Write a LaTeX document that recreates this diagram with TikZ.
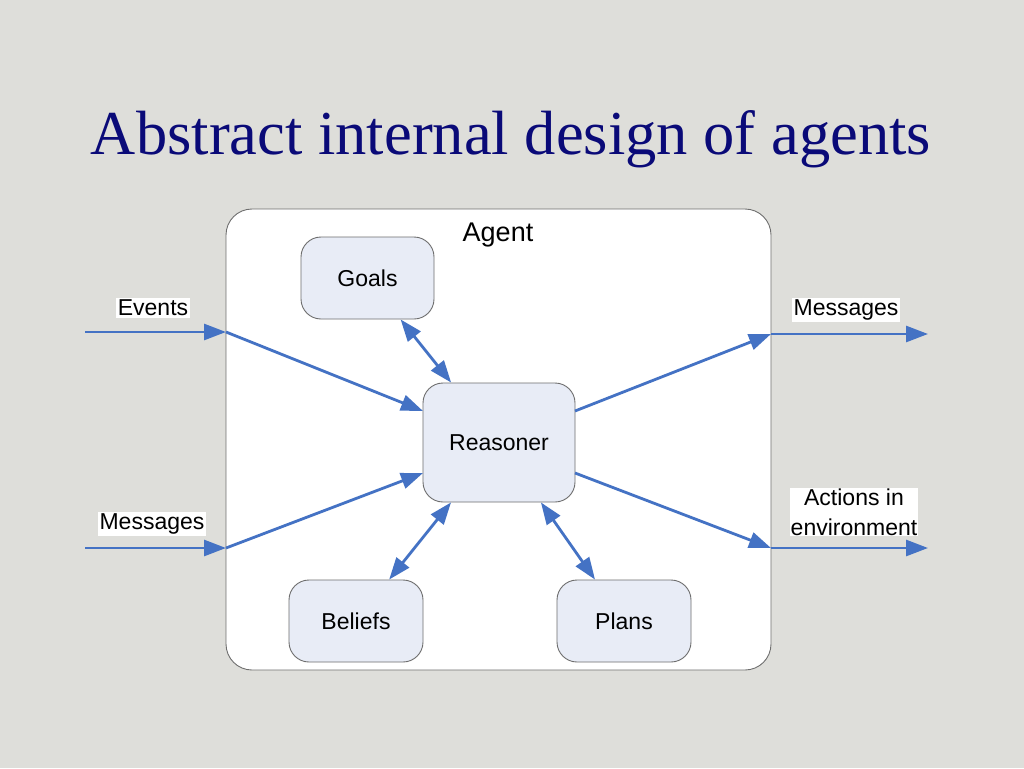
\documentclass[tikz,border=0pt]{standalone}
\usepackage{fontspec}
\setmainfont{Liberation Sans}
\newfontfamily\titlefont{Liberation Serif}
\usetikzlibrary{arrows.meta}
\definecolor{bgc}{RGB}{222,222,218}
\definecolor{navy}{RGB}{10,10,120}
\definecolor{arr}{RGB}{68,114,196}
\definecolor{boxfill}{RGB}{232,236,246}
\definecolor{edge}{RGB}{110,110,110}
\tikzset{
  comp/.style={draw=edge, line width=0.9pt, fill=boxfill, rounded corners=20pt,
    minimum width=134pt, minimum height=82pt, inner sep=0pt,
    font=\fontsize{23}{27}\selectfont},
  flow/.style={draw=arr, line width=2.8pt, -{Triangle[length=22pt,width=16pt]}},
  biflow/.style={draw=arr, line width=2.8pt, {Triangle[length=22pt,width=16pt]}-{Triangle[length=22pt,width=16pt]}},
  lbl/.style={fill=white, inner sep=2pt, font=\fontsize{23}{30}\selectfont, align=center}
}
\begin{document}
\begin{tikzpicture}[x=1pt,y=-1pt]
\fill[bgc] (0,0) rectangle (1024,768);
\useasboundingbox (0,0) rectangle (1024,768);
\node[text=navy, font=\titlefont\fontsize{62.5}{68}\selectfont] (title) at (511,139) {Abstract internal design of agents};
% agent box
\node[draw=edge, line width=0.9pt, fill=white, rounded corners=26pt,
  minimum width=545pt, minimum height=461pt, inner sep=0pt] (agent) at (498.5,439.5) {};
\node[font=\fontsize{27}{31}\selectfont] (agentlbl) at (498,235) {Agent};
% components
\node[comp, minimum width=133pt] (goals) at (367.5,278) {Goals};
\node[comp, minimum width=152pt, minimum height=119pt] (reasoner) at (499,442.5) {Reasoner};
\node[comp] (beliefs) at (356,621) {Beliefs};
\node[comp] (plans) at (624,621) {Plans};
% coordinates
\coordinate (evS) at (85,332);
\coordinate (evJ) at (226,332);
\coordinate (rIn1) at (423,411);
\coordinate (msS) at (85,548);
\coordinate (msJ) at (226,548);
\coordinate (rIn2) at (423,473);
\coordinate (rOut1) at (575,411);
\coordinate (moJ) at (771,334);
\coordinate (moE) at (928,334);
\coordinate (rOut2) at (575,473);
\coordinate (acJ) at (771,548);
\coordinate (acE) at (928,548);
% arrows
\draw[flow] (evS) -- (evJ);
\draw[flow] (evJ) -- (rIn1);
\draw[flow] (msS) -- (msJ);
\draw[flow] (msJ) -- (rIn2);
\draw[flow] (rOut1) -- (moJ);
\draw[flow] (moJ) -- (moE);
\draw[flow] (rOut2) -- (acJ);
\draw[flow] (acJ) -- (acE);
\draw[biflow] (goals) -- (reasoner);
\draw[biflow] (beliefs) -- (reasoner);
\draw[biflow] (plans) -- (reasoner);
% labels
\node[lbl] (evl) at (153,308) {Events};
\node[lbl] (msl) at (152,524) {Messages};
\node[lbl] (mol) at (846,310) {Messages};
\node[lbl, inner sep=1pt] (acl) at (854,512) {Actions in\\environment};
\end{tikzpicture}
\end{document}
